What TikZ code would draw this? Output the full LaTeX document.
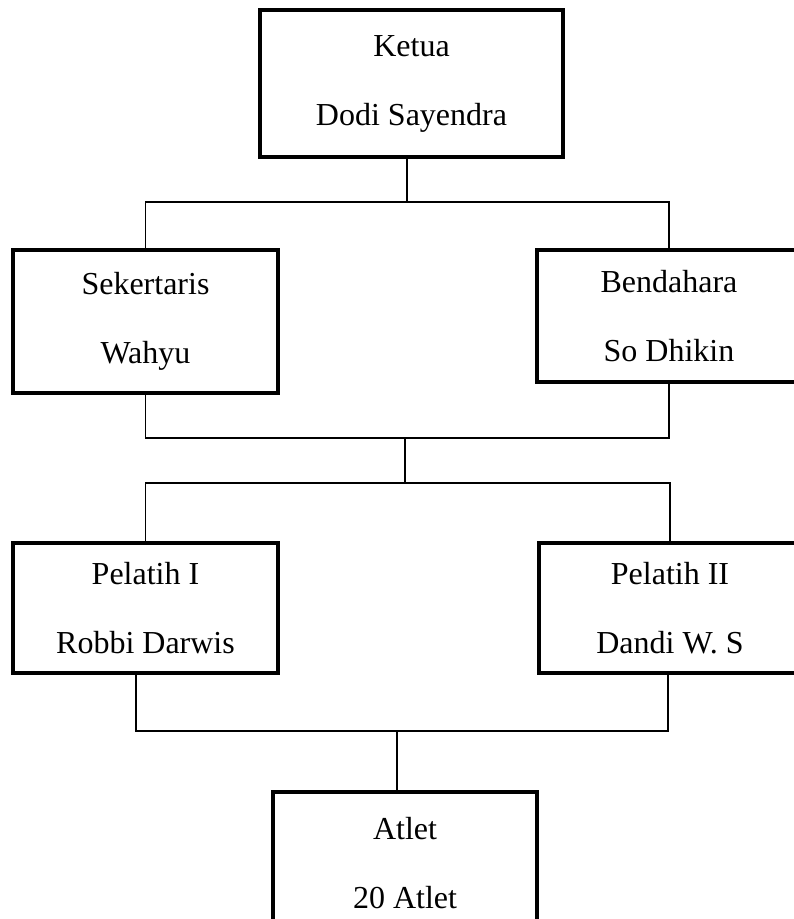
\documentclass[tikz,border=0pt]{standalone}
\usepackage{fontspec}
\setmainfont{Liberation Serif}
\begin{document}
\begin{tikzpicture}[x=0.75pt, y=-0.75pt, inner sep=0, outer sep=0,
  box/.style={rectangle, draw=black, line width=3pt,
    align=center, font=\fontsize{24pt}{51.75pt}\selectfont},
  link/.style={draw=black, line width=1pt}]
  \useasboundingbox (0, 0) rectangle (793, 919);
% LEVEL 1
  \node[box,
    minimum height = 110.25pt,
    minimum width = 227.25pt] (level1_1) at (411.5, 83.5) {Ketua\\Dodi Sayendra};
% LEVEL 2
  \node[box,
    minimum height = 107.25pt,
    minimum width = 198.75pt] (level2_1) at (145.5, 321.5) {Sekertaris\\Wahyu};
  \node[box,
    minimum height = 99pt,
    minimum width = 198pt] (level2_2) at (669, 316) {Bendahara\\So Dhikin};
% LEVEL 3
  \node[box,
    minimum height = 97.5pt,
    minimum width = 198.75pt] (level3_1) at (145.5, 608) {Pelatih I\\Robbi Darwis};
  \node[box,
    minimum height = 97.5pt,
    minimum width = 196.5pt] (level3_2) at (670, 608) {Pelatih II\\Dandi W. S};
% LEVEL 4
  \node[box,
    minimum height = 107.25pt,
    minimum width = 198pt] (level4_1) at (405, 863.5) {Atlet\\20 Atlet};

% junctions
  \coordinate (join1) at (407, 202);
  \coordinate (join2) at (405, 438);
  \coordinate (join3) at (405, 483);
  \coordinate (join4) at (397, 731);
  \coordinate (join4_l) at (136, 731);
  \coordinate (join4_r) at (668, 731);

  \draw[link] (level1_1.south -| join1) -- (join1);
  \draw[link] (level2_1.north) |- (join1) -| (level2_2.north);

  \draw[link] (level2_1.south) |- (join2) -| (level2_2.south);
  \draw[link] (join2) -- (join3);
  \draw[link] (level3_1.north) |- (join3) -| (level3_2.north);

  \draw[link] (level3_1.south -| join4_l) -- (join4_l) -- (join4_r) -- (level3_2.south -| join4_r);
  \draw[link] (join4) -- (level4_1.north -| join4);
\end{tikzpicture}
\end{document}
